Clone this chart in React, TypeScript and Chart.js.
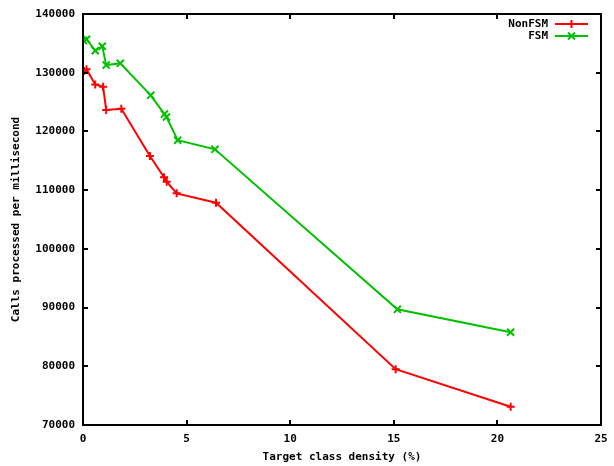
import React, { useEffect, useRef } from "react";
import { Chart, registerables } from "chart.js";

Chart.register(...registerables);

// Target class density (%) and calls processed per millisecond
const nonFsmX = [0.05, 0.17, 0.59, 0.97, 1.12, 1.85, 3.23, 3.91, 4.04, 4.52, 6.42, 15.09, 20.64];
const nonFsmY = [130300, 130600, 128000, 127600, 123650, 123850, 115800, 112200, 111450, 109450, 107850, 79500, 73100];

const fsmX = [0.02, 0.17, 0.59, 0.93, 1.12, 1.8, 3.27, 3.93, 4.03, 4.57, 6.37, 15.17, 20.64];
const fsmY = [135500, 135700, 133750, 134500, 131300, 131600, 126150, 122950, 122450, 118500, 116950, 89700, 85800];

const xTicks = [0, 5, 10, 15, 20, 25];
const yTicks = [70000, 80000, 90000, 100000, 110000, 120000, 130000, 140000];

const seriesNames = ["NonFSM", "FSM"];
const seriesColors = ["#ff0000", "#00c000"];

const FONT = '"DejaVu Sans Mono", "Liberation Mono", monospace';

const framePlugin = {
  id: "gnuplotFrame",
  afterDraw(chart: any) {
    const { ctx, chartArea } = chart;
    const { left, right, top, bottom } = chartArea;
    const xs = chart.scales.x;
    const ys = chart.scales.y;
    ctx.save();
    ctx.strokeStyle = "#000";
    ctx.lineWidth = 2;
    ctx.strokeRect(left, top, right - left, bottom - top);
    ctx.lineWidth = 2;
    const tl = 5;
    ctx.beginPath();
    xTicks.forEach((v) => {
      const px = Math.round(xs.getPixelForValue(v));
      ctx.moveTo(px, bottom);
      ctx.lineTo(px, bottom - tl);
      ctx.moveTo(px, top);
      ctx.lineTo(px, top + tl);
    });
    yTicks.forEach((v) => {
      const py = Math.round(ys.getPixelForValue(v));
      ctx.moveTo(left, py);
      ctx.lineTo(left + tl, py);
      ctx.moveTo(right, py);
      ctx.lineTo(right - tl, py);
    });
    ctx.stroke();

    // legend
    ctx.font = "bold 11px " + FONT;
    ctx.textAlign = "right";
    ctx.textBaseline = "middle";
    const styles = ["cross", "crossRot"];
    seriesNames.forEach((name, i) => {
      const y = 24 + i * 12;
      ctx.fillStyle = "#000";
      ctx.fillText(name, 548, y);
      ctx.strokeStyle = seriesColors[i];
      ctx.lineWidth = 2;
      ctx.beginPath();
      ctx.moveTo(555, y);
      ctx.lineTo(588, y);
      ctx.stroke();
      ctx.beginPath();
      const cx = 571.5;
      if (styles[i] === "cross") {
        ctx.moveTo(cx - 4, y);
        ctx.lineTo(cx + 4, y);
        ctx.moveTo(cx, y - 4);
        ctx.lineTo(cx, y + 4);
      } else {
        ctx.moveTo(cx - 3.5, y - 3.5);
        ctx.lineTo(cx + 3.5, y + 3.5);
        ctx.moveTo(cx - 3.5, y + 3.5);
        ctx.lineTo(cx + 3.5, y - 3.5);
      }
      ctx.stroke();
    });
    ctx.restore();
  },
};

export default function App() {
  const ref = useRef<HTMLCanvasElement | null>(null);

  useEffect(() => {
    if (!ref.current) return;
    const chart = new Chart(ref.current, {
      type: "line",
      data: {
        datasets: [
          {
            label: seriesNames[0],
            data: nonFsmX.map((x, i) => ({ x, y: nonFsmY[i] })),
            borderColor: seriesColors[0],
            backgroundColor: seriesColors[0],
            borderWidth: 2,
            pointStyle: "cross",
            pointRadius: 4,
            pointBorderWidth: 2,
            tension: 0,
          },
          {
            label: seriesNames[1],
            data: fsmX.map((x, i) => ({ x, y: fsmY[i] })),
            borderColor: seriesColors[1],
            backgroundColor: seriesColors[1],
            borderWidth: 2,
            pointStyle: "crossRot",
            pointRadius: 5,
            pointBorderWidth: 2,
            tension: 0,
          },
        ],
      },
      options: {
        animation: false,
        responsive: false,
        devicePixelRatio: 1,
        layout: { padding: { top: 14, right: 13, left: 0, bottom: 0 } },
        plugins: { legend: { display: false }, tooltip: { enabled: false } },
        scales: {
          x: {
            type: "linear",
            min: 0,
            max: 25,
            afterBuildTicks: (s: any) => {
              s.ticks = xTicks.map((v) => ({ value: v }));
            },
            afterFit: (s: any) => {
              s.height = 41;
              s.paddingLeft = 0;
              s.paddingRight = 0;
            },
            grid: { display: false, drawTicks: false },
            border: { display: false },
            ticks: {
              color: "#000",
              font: { family: FONT, size: 11, weight: "bold" },
              padding: 8,
              maxRotation: 0,
              autoSkip: false,
            },
            title: {
              display: true,
              text: "Target class density (%)",
              color: "#000",
              font: { family: FONT, size: 11, weight: "bold" },
              padding: { top: 0, bottom: 2 },
            },
          },
          y: {
            type: "linear",
            min: 70000,
            max: 140000,
            afterBuildTicks: (s: any) => {
              s.ticks = yTicks.map((v) => ({ value: v }));
            },
            afterFit: (s: any) => {
              s.width = 83;
              s.paddingTop = 0;
              s.paddingBottom = 0;
            },
            grid: { display: false, drawTicks: false },
            border: { display: false },
            ticks: {
              color: "#000",
              font: { family: FONT, size: 11, weight: "bold" },
              padding: 8,
              autoSkip: false,
              callback: (v: any) => String(v),
            },
            title: {
              display: true,
              text: "Calls processed per millisecond",
              color: "#000",
              font: { family: FONT, size: 11, weight: "bold" },
              padding: { top: 10, bottom: 0 },
            },
          },
        },
      },
      plugins: [framePlugin],
    } as any);
    return () => chart.destroy();
  }, []);

  return (
    <div style={{ position: "fixed", left: 0, top: 0, width: 614, height: 466, background: "#fff" }}>
      <canvas ref={ref} width={614} height={466} style={{ display: "block" }} />
    </div>
  );
}
